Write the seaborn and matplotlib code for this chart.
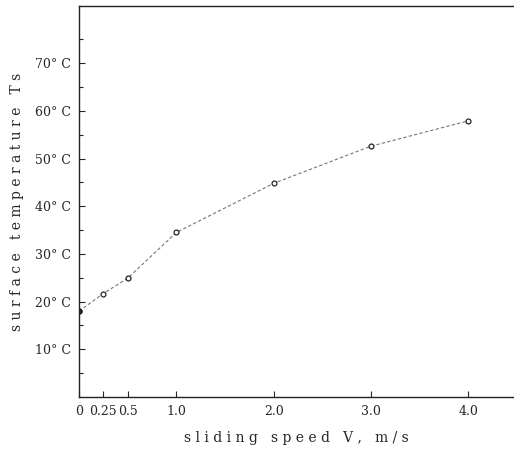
import numpy as np
import pandas as pd
import seaborn as sns
import matplotlib.pyplot as plt

# sliding speed (m/s) and surface temperature (deg C)
speed = [0.0, 0.25, 0.5, 1.0, 2.0, 3.0, 4.0]
temperature = [18.0, 21.7, 24.9, 34.5, 44.8, 52.6, 57.9]

x_ticks = [0, 0.25, 0.5, 1.0, 2.0, 3.0, 4.0]
x_labels = ['0', '0.25', '0.5', '1.0', '2.0', '3.0', '4.0']
y_ticks = [10, 20, 30, 40, 50, 60, 70]
y_labels = [f'{t}° C' for t in y_ticks]

df = pd.DataFrame({'speed': speed, 'temp': temperature})

sns.set_style('ticks')
plt.rcParams['font.family'] = ['DejaVu Serif']

fig = plt.figure(figsize=(5.14, 4.5), dpi=100)
ax = fig.add_axes([0.1537, 0.1178, 0.8463, 0.8689])

sns.lineplot(data=df, x='speed', y='temp', ax=ax, color='#777777', linewidth=0.8,
             linestyle=(0, (3, 2)), marker='o', markersize=3.5,
             markerfacecolor='white', markeredgecolor='#222222', markeredgewidth=0.9)
# first point is drawn solid in the original
ax.plot(speed[:1], temperature[:1], 'o', color='#222222', markersize=3.5)

ax.set_xlim(0, 4.47)
ax.set_ylim(0, 82)
ax.set_xticks(x_ticks)
ax.set_xticklabels(x_labels, fontsize=9)
ax.set_yticks(y_ticks)
ax.set_yticklabels(y_labels, fontsize=9)
ax.set_yticks([5, 15, 25, 35, 45, 55, 65, 75], minor=True)
ax.tick_params(direction='in', length=4, width=0.8, pad=6)
ax.tick_params(which='minor', direction='in', length=3, width=0.8)

ax.spines['right'].set_visible(False)
for s in ['left', 'bottom', 'top']:
    ax.spines[s].set_linewidth(1.0)
    ax.spines[s].set_color('#222222')

ax.set_xlabel('s l i d i n g   s p e e d   V ,   m / s', fontsize=10, labelpad=9)
ax.set_ylabel('s u r f a c e   t e m p e r a t u r e   T s', fontsize=10, labelpad=8)

fig.savefig('out.png', dpi=100)
